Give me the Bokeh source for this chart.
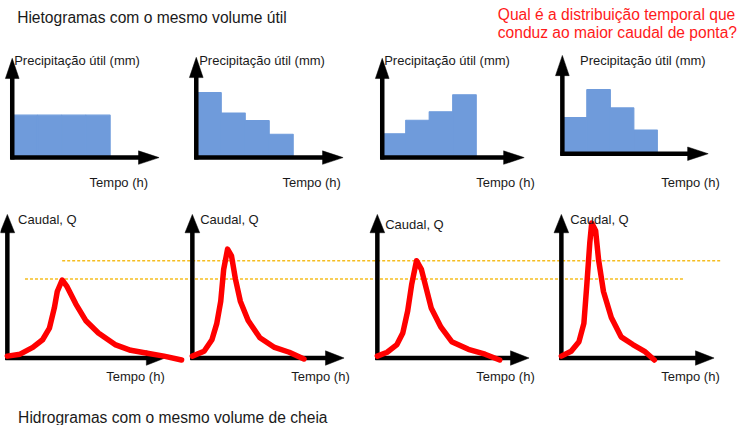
from bokeh.plotting import figure
from bokeh.models import Range1d
from bokeh.core.properties import value
from bokeh.embed import file_html
from bokeh.resources import INLINE

# ---------------- data ----------------
# Hyetographs: effective rainfall (mm) per 1-hour interval, same total volume
hyeto_hours = [1, 2, 3, 4]
hyeto_uniform = [10.0, 10.0, 10.0, 10.0]
hyeto_decreasing = [15.3, 10.5, 8.7, 5.5]
hyeto_increasing = [5.6, 8.8, 10.8, 14.8]
hyeto_peaked = [8.5, 15.1, 10.8, 5.6]

# Hydrographs: time (h) and discharge Q (arbitrary units)
hydro1_t = [0, 1.3, 2.6, 3.6, 4.3, 4.8, 5.1, 5.6, 6.1, 7.0, 8.0, 9.3, 11.0, 12.6, 14.3, 16.0, 17.8]
hydro1_q = [2, 4, 11, 19, 31, 52, 69, 81, 74, 56, 39, 26, 14, 8, 5, 2, -2]
hydro2_t = [0, 1.2, 2.0, 2.5, 2.9, 3.2, 3.6, 4.0, 4.4, 4.9, 5.7, 6.9, 8.4, 9.9, 11.4]
hydro2_q = [2, 7, 19, 36, 59, 92, 113, 106, 82, 59, 39, 21, 11, 6, -1]
hydro3_t = [0, 1.0, 2.0, 2.6, 3.1, 3.5, 4.0, 4.5, 5.0, 5.5, 6.5, 7.6, 9.3, 11.0, 12.5]
hydro3_q = [2, 6, 14, 26, 49, 76, 101, 92, 72, 52, 32, 17, 9, 4, -2]
hydro4_t = [0, 1.0, 1.8, 2.3, 2.6, 2.9, 3.1, 3.5, 3.8, 4.3, 5.1, 6.1, 7.3, 8.5, 9.5]
hydro4_q = [2, 7, 17, 36, 76, 119, 140, 132, 102, 69, 42, 22, 14, 7, -2]

# Reference peak levels (dashed lines)
peak_levels = [101, 82]

title_top = "Hietogramas com o mesmo volume útil"
title_bottom = "Hidrogramas com o mesmo volume de cheia"
question = ["Qual é a distribuição temporal que", "conduz ao maior caudal de ponta?"]
label_rain = "Precipitação útil (mm)"
label_q = "Caudal, Q"
label_time = "Tempo (h)"

# ---------------- layout (canvas pixels of the drawing) ----------------
FONT = value("Liberation Sans")
BAR_COLOR = "#6f9bdb"
DASH_COLOR = "#f5bd1f"

p = figure(width=740, height=425, output_backend="svg", toolbar_location=None,
           x_range=Range1d(0, 756), y_range=Range1d(444, 3),
           x_axis_type=None, y_axis_type=None, min_border=0)
p.grid.visible = False
p.outline_line_color = None
p.background_fill_color = "white"


def axes(x0, y0, ytip, xtip, head_len, half_w, lw=4.5):
    p.segment(x0=[x0, x0 - 2], y0=[y0 + 2, y0], x1=[x0, xtip - head_len + 1],
              y1=[ytip + head_len - 1, y0], line_color="black", line_width=lw,
              line_cap="butt")
    p.patches(xs=[[x0, x0 - half_w, x0 + half_w],
                  [xtip, xtip - head_len, xtip - head_len]],
              ys=[[ytip, ytip + head_len, ytip + head_len],
                  [y0, y0 - half_w, y0 + half_w]],
              fill_color="black", line_color="black", line_width=0.5)


# ---- hyetograph panels ----
hyeto_sets = [hyeto_uniform, hyeto_decreasing, hyeto_increasing, hyeto_peaked]
# (axis x, axis y, y-arrow tip, x-arrow tip, first bar left, px per hour)
hyeto_panels = [(12, 166, 63, 162, 13, 24.75),
                (200, 166, 62, 350, 201, 24.5),
                (390, 166, 63, 535, 390, 24.0),
                (574, 162, 60, 723, 575, 24.0)]
mm_px = 4.4
rain_label_x = [14, 203, 392, 592]
time_top_x = [91, 288, 486, 675]

for vals, (ax, ay, yt, xt, bl, hw), lx, tx in zip(hyeto_sets, hyeto_panels, rain_label_x, time_top_x):
    left = [bl + (h - 1) * hw for h in hyeto_hours]
    right = [bl + h * hw for h in hyeto_hours]
    top = [ay - v * mm_px for v in vals]
    p.quad(left=left, right=right, top=top, bottom=[ay] * len(vals),
           fill_color=BAR_COLOR, line_color=BAR_COLOR, line_width=1.2)
    axes(ax, ay, yt, xt, 21, 7)
    p.text(x=[lx], y=[65], text=[label_rain], text_font=FONT, text_font_size="13px",
           text_color="#1a1a1a", text_baseline="alphabetic")
    p.text(x=[tx], y=[192], text=[label_time], text_font=FONT, text_font_size="13px",
           text_color="#1a1a1a", text_baseline="alphabetic")

# ---- hydrograph panels ----
hydro_sets = [(hydro1_t, hydro1_q), (hydro2_t, hydro2_q),
              (hydro3_t, hydro3_q), (hydro4_t, hydro4_q)]
hydro_x0 = [7, 196, 385, 573]
hydro_xtip = [168, 351, 540, 729]
HY0, HYTIP = 374, 225
t_px = 10.0
q_label_pos = [(18, 230), (204, 230), (393, 235), (582, 230)]
time_bot_x = [108, 297, 486, 675]

# dashed reference lines
p.segment(x0=[63, 25], x1=[737, 699], y0=[HY0 - v for v in peak_levels],
          y1=[HY0 - v for v in peak_levels], line_color=DASH_COLOR,
          line_width=1.5, line_dash="3 2")

for (tt, qq), x0, xt, (qx, qy), tx in zip(hydro_sets, hydro_x0, hydro_xtip, q_label_pos, time_bot_x):
    axes(x0, HY0, HYTIP, xt, 19, 7.5)
    p.line(x=[x0 + t * t_px for t in tt], y=[HY0 - q for q in qq],
           line_color="#ff0000", line_width=5.5, line_join="round", line_cap="round")
    p.text(x=[qx], y=[qy], text=[label_q], text_font=FONT, text_font_size="13px",
           text_color="#1a1a1a", text_baseline="alphabetic")
    p.text(x=[tx], y=[393], text=[label_time], text_font=FONT, text_font_size="13px",
           text_color="#1a1a1a", text_baseline="alphabetic")

# ---- titles ----
p.text(x=[17], y=[21], text=[title_top], text_font=FONT, text_font_size="15.6px",
       text_color="#1a1a1a", text_baseline="alphabetic")
p.text(x=[18], y=[436], text=[title_bottom], text_font=FONT, text_font_size="15.6px",
       text_color="#1a1a1a", text_baseline="alphabetic")
p.text(x=[508, 508], y=[18, 36], text=question, text_font=FONT, text_font_size="15.6px",
       text_color="#ff1a1a", text_baseline="alphabetic")

open("out.html", "w").write(file_html(p, INLINE))
